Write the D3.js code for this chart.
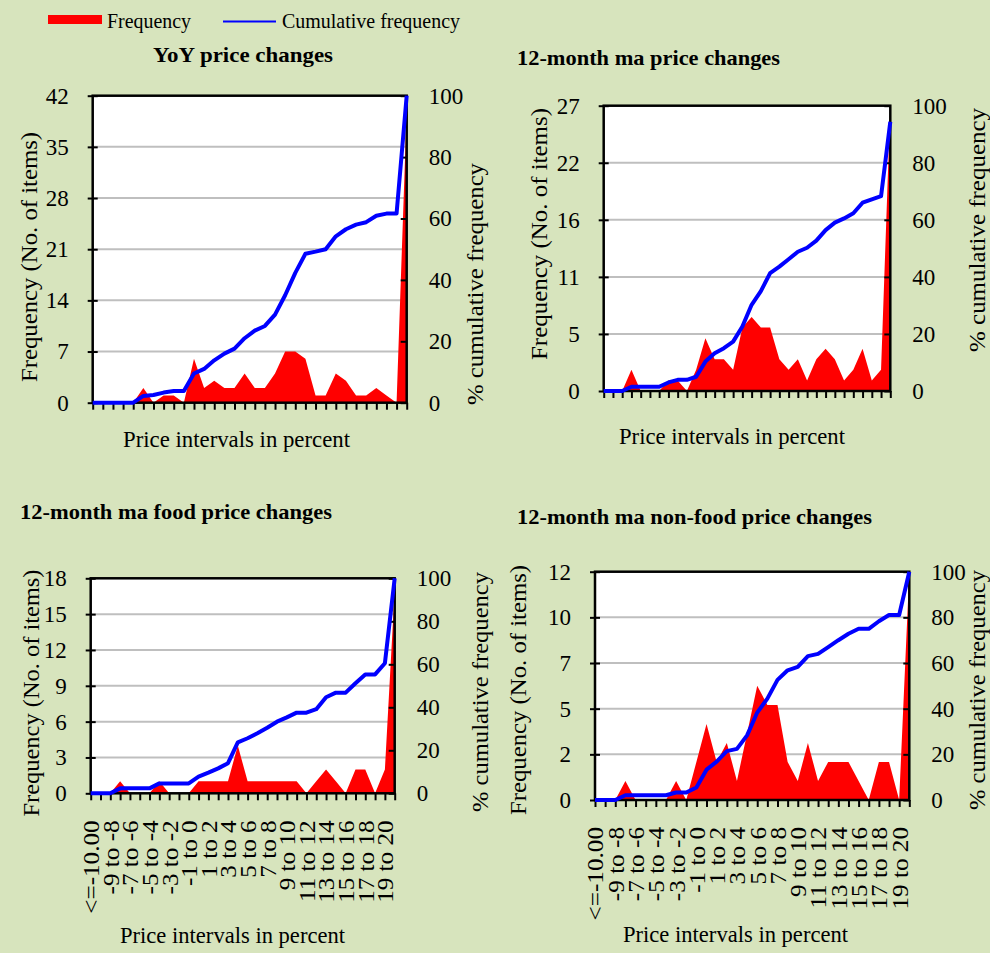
<!DOCTYPE html>
<html lang="en">
<head>
<meta charset="UTF-8">
<script src="https://d3js.org/d3.v7.min.js"></script>
<style>
    body { margin: 0; background: #d7e4bd; }
    svg { display: block; }
    text { font-family: "Liberation Serif", "Times New Roman", serif; fill: #000; }
    .grid { stroke: #bfbfbf; stroke-width: 2; }
    .frame { fill: none; stroke: #000; stroke-width: 2.5; }
    .freq { fill: #ff0000; }
    .cum { fill: none; stroke: #0000ff; stroke-width: 4; stroke-linejoin: round; }
    .axis line { stroke: #000; stroke-width: 2; }
</style>
</head>
<body>
<script>

// price intervals (x categories), only every second one is labelled
var categories = ["<=-10.00", "-10 to -9", "-9 to -8", "-8 to -7", "-7 to -6", "-6 to -5", "-5 to -4",
    "-4 to -3", "-3 to -2", "-2 to -1", "-1 to 0", "0 to 1", "1 to 2", "2 to 3", "3 to 4", "4 to 5",
    "5 to 6", "6 to 7", "7 to 8", "8 to 9", "9 to 10", "10 to 11", "11 to 12", "12 to 13", "13 to 14",
    "14 to 15", "15 to 16", "16 to 17", "17 to 18", "18 to 19", "19 to 20", ">20.00"];

// frequency (no. of items) and % cumulative frequency
var yoyFreq = [0,0,0,0,0,2,0,1,1,0,6,2,3,2,2,4,2,2,4,7,7,6,1,1,4,3,1,1,2,1,0,40];
var yoyCum = [0,0,0,0,0,2.2,2.5,3.3,3.8,3.8,9.5,11,13.8,16,17.6,21,23.5,25,28.7,35,42.3,48.5,49.2,50,54.2,56.5,58,58.8,60.9,61.6,61.6,100];

var maFreq = [0,0,0,2,0,0,0,1,1,0,2,5,3,3,2,6,7,6,6,3,2,3,1,3,4,3,1,2,4,1,2,27];
var maCum = [0,0,0,1.5,1.5,1.5,1.5,3,3.9,3.9,5,10.3,13.2,15,17.3,22.6,30.2,35,41.3,43.6,46.2,48.8,50.2,52.7,56.4,59,60.5,62.3,66,67.2,68.3,94.4];

var foodFreq = [0,0,0,1,0,0,0,1,0,0,0,1,1,1,1,4,1,1,1,1,1,1,0,1,2,1,0,2,2,0,2,17];
var foodCum = [0,0,0,2.3,2.3,2.3,2.3,4.6,4.6,4.6,4.6,7.8,9.6,11.6,14,23.7,25.6,27.9,30.5,33.3,35.3,37.5,37.5,39.1,44.7,46.8,46.8,51.2,55.3,55.3,60.5,100];

var nonFoodFreq = [0,0,0,1,0,0,0,0,1,0,2,4,2,3,1,3.5,6,5,5,2,1,3,1,2,2,2,1,0,2,2,0,12];
var nonFoodCum = [0,0,0,2.1,2.1,2.1,2.1,2.1,3.3,3.3,5.5,13.3,16.8,21.4,22.4,28.3,38.3,44.4,52.6,56.8,58.3,63,64,67,70,72.8,75,75,78.3,81,81,100];

// tick values of the left axes (labels are rounded) and the right axis
var yoyTicks = [0, 7, 14, 21, 28, 35, 42];
var maTicks = [0, 5.4, 10.8, 16.2, 21.6, 27];
var foodTicks = [0, 3, 6, 9, 12, 15, 18];
var nonFoodTicks = [0, 2.4, 4.8, 7.2, 9.6, 12];
var cumTicks = [0, 20, 40, 60, 80, 100];

var titles = ["YoY price changes", "12-month ma price changes",
    "12-month ma food price changes", "12-month ma non-food price changes"];

var width = 990, height = 953;
var svg = d3.select("body").append("svg")
    .attr("width", width)
    .attr("height", height);

// legend
svg.append("rect").attr("x", 48).attr("y", 15).attr("width", 54).attr("height", 9).attr("fill", "#ff0000");
svg.append("text").attr("x", 107).attr("y", 28).attr("font-size", 22)
    .attr("textLength", 84).attr("lengthAdjust", "spacingAndGlyphs").text("Frequency");
svg.append("line").attr("x1", 223).attr("x2", 276).attr("y1", 21.5).attr("y2", 21.5)
    .attr("stroke", "#0000ff").attr("stroke-width", 2);
svg.append("text").attr("x", 282).attr("y", 28).attr("font-size", 22)
    .attr("textLength", 178).attr("lengthAdjust", "spacingAndGlyphs").text("Cumulative frequency");

var panels = [
    { title: titles[0], freq: yoyFreq, cum: yoyCum, ticks: yoyTicks, box: [92.7, 95.7, 406.7, 402.7],
      t: [153, 62, 180], xt: [123, 447, 227], lt: [29, 257, 250], rt: [475, 284, 242], labels: false },
    { title: titles[1], freq: maFreq, cum: maCum, ticks: maTicks, box: [603.7, 105.7, 890.3, 391],
      t: [517, 65, 263], xt: [619, 444, 226], lt: [539, 234, 252], rt: [977, 230, 244], labels: false },
    { title: titles[2], freq: foodFreq, cum: foodCum, ticks: foodTicks, box: [90.7, 578.3, 394.7, 793.3],
      t: [20, 519, 312], xt: [120, 943, 225], lt: [31, 693, 247], rt: [480, 692, 240], labels: true },
    { title: titles[3], freq: nonFoodFreq, cum: nonFoodCum, ticks: nonFoodTicks, box: [595, 571.7, 909.3, 800],
      t: [517, 524, 355], xt: [623, 942, 225], lt: [518, 690, 250], rt: [977, 690, 240], labels: true }
];

panels.forEach(function (p) {
    var x0 = p.box[0], y0 = p.box[1], x1 = p.box[2], y1 = p.box[3];
    var g = svg.append("g");

    var x = d3.scalePoint().domain(categories).range([x0, x1]);
    var yL = d3.scaleLinear().domain([0, d3.max(p.ticks)]).range([y1, y0]);
    var yR = d3.scaleLinear().domain([0, 100]).range([y1, y0]);

    g.append("rect").attr("x", x0).attr("y", y0).attr("width", x1 - x0).attr("height", y1 - y0).attr("fill", "#fff");

    g.selectAll(".grid").data(p.ticks.slice(1, -1)).enter().append("line")
        .attr("class", "grid")
        .attr("x1", x0).attr("x2", x1)
        .attr("y1", function (d) { return yL(d); })
        .attr("y2", function (d) { return yL(d); });

    var area = d3.area()
        .x(function (d, i) { return x(categories[i]); })
        .y0(y1)
        .y1(function (d) { return yL(d); });
    g.append("path").datum(p.freq).attr("class", "freq").attr("d", area);

    g.append("rect").attr("class", "frame").attr("x", x0).attr("y", y0).attr("width", x1 - x0).attr("height", y1 - y0);

    // axes
    var left = g.append("g").attr("class", "axis").attr("transform", "translate(" + x0 + ",0)")
        .call(d3.axisLeft(yL).tickValues(p.ticks).tickFormat(d3.format(".0f")).tickSize(5).tickPadding(19));
    left.selectAll(".tick line").attr("x2", 5).attr("x1", -5);
    var right = g.append("g").attr("class", "axis").attr("transform", "translate(" + x1 + ",0)")
        .call(d3.axisRight(yR).tickValues(cumTicks).tickSizeInner(-6).tickPadding(22));
    var bottom = g.append("g").attr("class", "axis").attr("transform", "translate(0," + y1 + ")")
        .call(d3.axisBottom(x).tickSize(7).tickFormat(""));
    [left, right, bottom].forEach(function (a) {
        a.attr("font-size", 23).attr("font-family", null);
        a.select(".domain").remove();
    });

    if (p.labels) {
        g.selectAll(".xlab").data(categories.filter(function (d, i) { return i % 2 === 0; }))
            .enter().append("text")
            .attr("class", "xlab")
            .attr("font-size", 24)
            .attr("text-anchor", "end")
            .attr("dy", "0.35em")
            .attr("transform", function (d) { return "translate(" + x(d) + "," + (y1 + 27) + ") rotate(-90) scale(1.05,1)"; })
            .text(function (d) { return d; });
    }

    var line = d3.line()
        .x(function (d, i) { return x(categories[i]); })
        .y(function (d) { return yR(d); });
    g.append("path").datum(p.cum).attr("class", "cum").attr("d", line);

    // titles
    g.append("text").attr("x", p.t[0]).attr("y", p.t[1]).attr("font-size", 22).attr("font-weight", "bold")
        .attr("textLength", p.t[2]).attr("lengthAdjust", "spacingAndGlyphs").text(p.title);
    g.append("text").attr("x", p.xt[0]).attr("y", p.xt[1]).attr("font-size", 23)
        .attr("textLength", p.xt[2]).attr("lengthAdjust", "spacingAndGlyphs").text("Price intervals in percent");
    g.append("text").attr("text-anchor", "middle").attr("dy", "0.35em").attr("font-size", 24)
        .attr("transform", "translate(" + p.lt[0] + "," + p.lt[1] + ") rotate(-90)")
        .attr("textLength", p.lt[2]).attr("lengthAdjust", "spacingAndGlyphs").text("Frequency (No. of items)");
    g.append("text").attr("text-anchor", "middle").attr("dy", "0.35em").attr("font-size", 24)
        .attr("transform", "translate(" + p.rt[0] + "," + p.rt[1] + ") rotate(-90)")
        .attr("textLength", p.rt[2]).attr("lengthAdjust", "spacingAndGlyphs").text("% cumulative frequency");
});
</script>
</body>
</html>
